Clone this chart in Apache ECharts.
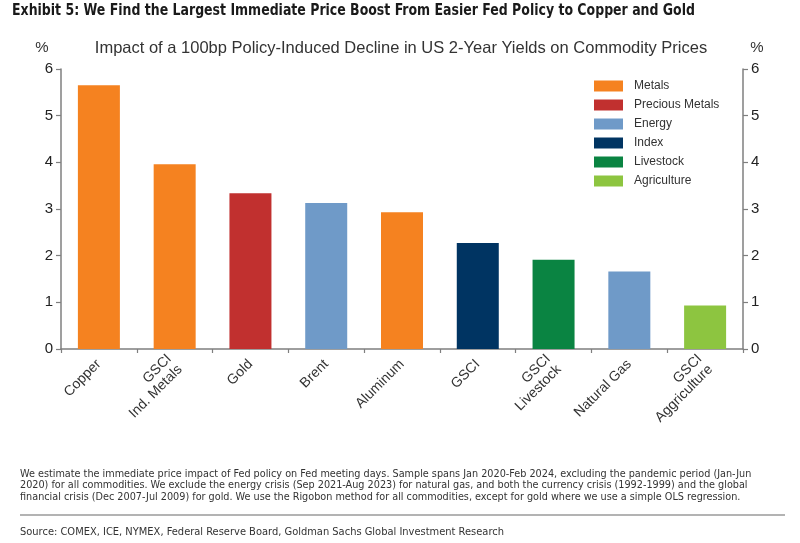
<!DOCTYPE html>
<html>
<head>
<meta charset="utf-8">
<script src="https://cdn.jsdelivr.net/npm/echarts@6/dist/echarts.min.js"></script>
<style>
html,body{margin:0;padding:0;background:#fff;}
#chart{width:800px;height:543px;}
</style>
</head>
<body>
<div id="chart"></div>
<script>
const categories = ['Copper', 'GSCI\nInd. Metals', 'Gold', 'Brent', 'Aluminum', 'GSCI', 'GSCI\nLivestock', 'Natural Gas', 'GSCI\nAggriculture'];
const values = [5.65, 3.96, 3.34, 3.13, 2.93, 2.27, 1.91, 1.66, 0.93];
const groups = ['Metals', 'Metals', 'Precious Metals', 'Energy', 'Metals', 'Index', 'Livestock', 'Energy', 'Agriculture'];
const groupNames = ['Metals', 'Precious Metals', 'Energy', 'Index', 'Livestock', 'Agriculture'];
const groupColors = ['#F58220', '#C1302F', '#6F9AC8', '#003462', '#0A8442', '#8DC540'];
const yTicks = [0, 1, 2, 3, 4, 5, 6];

const titleText = 'Exhibit 5: We Find the Largest Immediate Price Boost From Easier Fed Policy to Copper and Gold';
const subText = 'Impact of a 100bp Policy-Induced Decline in US 2-Year Yields on Commodity Prices';
const unitText = '%';
const noteLines = [
  'We estimate the immediate price impact of Fed policy on Fed meeting days. Sample spans Jan 2020-Feb 2024, excluding the pandemic period (Jan-Jun',
  '2020) for all commodities. We exclude the energy crisis (Sep 2021-Aug 2023) for natural gas, and both the currency crisis (1992-1999) and the global',
  'financial crisis (Dec 2007-Jul 2009) for gold. We use the Rigobon method for all commodities, except for gold where we use a simple OLS regression.'
];
const sourceText = 'Source: COMEX, ICE, NYMEX, Federal Reserve Board, Goldman Sachs Global Investment Research';

const NARROW = "'Liberation Sans Narrow', 'DejaVu Sans Condensed', 'Liberation Sans', sans-serif";
const SANS = "'Liberation Sans', Arial, sans-serif";
const axisGray = '#7f7f7f';

const chart = echarts.init(document.getElementById('chart'), null, {renderer: 'canvas'});

const series = groupNames.map((g, gi) => ({
  name: g,
  type: 'bar',
  stack: 'one',
  barWidth: 42,
  itemStyle: {color: groupColors[gi]},
  data: values.map((v, i) => groups[i] === g ? v : null)
}));

const yAxisCommon = {
  type: 'value',
  min: yTicks[0],
  max: yTicks[yTicks.length - 1],
  interval: 1,
  splitLine: {show: false},
  axisLine: {show: true, lineStyle: {color: axisGray, width: 1.5}},
  axisTick: {show: true, length: 5, lineStyle: {color: axisGray, width: 1.2}},
  axisLabel: {color: '#222', fontSize: 15, fontFamily: SANS, margin: 8}
};

function txt(text, x, y, font, opts) {
  return Object.assign({
    type: 'text', x: x, y: y, silent: true,
    style: Object.assign({text: text, font: font, fill: '#222', textVerticalAlign: 'middle', textAlign: 'left'}, (opts && opts.style) || {})
  }, (opts && opts.el) || {});
}

chart.setOption({
  animation: false,
  backgroundColor: '#fff',
  legend: {
    orient: 'vertical',
    left: 594,
    top: 80,
    padding: 0,
    itemWidth: 29,
    itemHeight: 11,
    itemGap: 7,
    icon: 'rect',
    data: groupNames,
    textStyle: {fontFamily: SANS, fontSize: 12, color: '#333', padding: [0, 0, 0, 6]}
  },
  grid: {left: 61, right: 57, top: 69, bottom: 194, containLabel: false},
  xAxis: {
    type: 'category',
    data: categories,
    boundaryGap: true,
    axisLine: {show: true, lineStyle: {color: axisGray, width: 1.5}},
    axisTick: {show: true, length: 4, alignWithLabel: false, lineStyle: {color: axisGray, width: 1.2}},
    axisLabel: {rotate: 45, interval: 0, margin: 13, fontSize: 14, fontFamily: SANS, color: '#333', lineHeight: 15, align: 'right'}
  },
  yAxis: [
    Object.assign({}, yAxisCommon, {position: 'left'}),
    Object.assign({}, yAxisCommon, {position: 'right'})
  ],
  series: series,
  graphic: [
    txt(titleText, 12, 11, "bold 16px 'DejaVu Sans Condensed', 'Liberation Sans', sans-serif", {el: {scaleX: 0.87}, style: {fill: '#1a1a1a'}}),
    txt(subText, 401, 48, "16.5px 'Liberation Sans', Arial, sans-serif", {style: {textAlign: 'center', fill: '#333'}}),
    txt(unitText, 42, 48, "15px 'Liberation Sans', Arial, sans-serif", {style: {textAlign: 'center', fill: '#333'}}),
    txt(unitText, 757, 48, "15px 'Liberation Sans', Arial, sans-serif", {style: {textAlign: 'center', fill: '#333'}}),
    txt(noteLines.join('\n'), 20, 485.5, "10.75px 'DejaVu Sans Condensed', 'Liberation Sans', sans-serif", {style: {fill: '#333', lineHeight: 11.7}}),
    txt(sourceText, 20, 532, "11px 'DejaVu Sans Condensed', 'Liberation Sans', sans-serif", {style: {fill: '#333'}}),
    {type: 'line', shape: {x1: 20, y1: 515, x2: 785, y2: 515}, style: {stroke: '#9a9a9a', lineWidth: 1.5}, silent: true}
  ]
});
</script>
</body>
</html>
